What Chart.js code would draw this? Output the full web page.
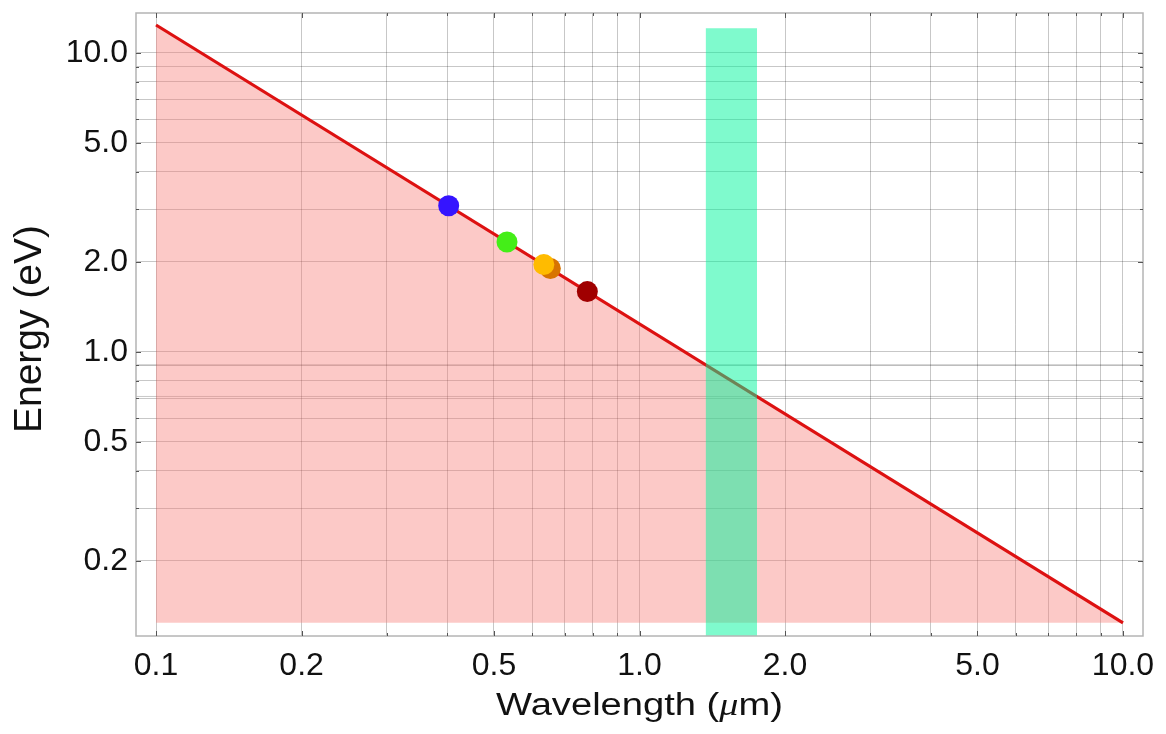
<!DOCTYPE html>
<html>
<head>
<meta charset="utf-8">
<script src="https://cdn.jsdelivr.net/npm/chart.js@4.4.1/dist/chart.umd.min.js"></script>
<style>
  html, body { margin: 0; padding: 0; background: #fff; }
  #wrap { width: 1166px; height: 734px; }
</style>
</head>
<body>
<div id="wrap"><canvas id="chart" width="1166" height="734"></canvas></div>
<script>
// photon energy line E = hc / lambda, end points
const lineWavelength = [0.1, 10];
const lineEnergy = [12.4, 0.124];
const fillFloor = 0.124;

// laser / LED markers
const markerWavelength = [0.403, 0.532, 0.654, 0.634, 0.78];
const markerEnergy = [3.08, 2.33, 1.90, 1.96, 1.59];
const markerColors = ['#3514ff', '#44ee18', '#d87400', '#ffbb00', '#a00000'];

// telecom band (green strip)
const bandWavelength = [1.37, 1.75];
const bandTop = [12.1, 12.1];
const bandEdgeEnergy = [0.905, 0.709];

// axes
const xRange = [0.0909, 11];
const yRange = [0.112, 13.6];
const xGridValues = [0.1, 0.2, 0.3, 0.4, 0.5, 0.6, 0.7, 0.8, 0.9, 1, 2, 3, 4, 5, 6, 7, 8, 9, 10];
const yGridValues = [0.2, 0.3, 0.4, 0.5, 0.6, 0.7, 0.8, 0.9, 1, 2, 3, 4, 5, 6, 7, 8, 9, 10];
const xTickLabels = { '0.1': '0.1', '0.2': '0.2', '0.5': '0.5', '1': '1.0', '2': '2.0', '5': '5.0', '10': '10.0' };
const yTickLabels = { '0.2': '0.2', '0.5': '0.5', '1': '1.0', '2': '2.0', '5': '5.0', '10': '10.0' };

const FONT = '"Liberation Sans", Arial, Helvetica, sans-serif';
const gridColor = 'rgba(0,0,0,0.22)';

const toPoints = (xs, ys) => xs.map((x, i) => ({ x, y: ys[i] }));

// frame round the plot, small inward ticks and the axis titles
const framePlugin = {
    id: 'frameAndTitles',
    afterDraw(chart) {
        const { ctx, chartArea: a, scales } = chart;
        ctx.save();
        ctx.strokeStyle = '#b4b4b4';
        ctx.lineWidth = 1.5;
        ctx.strokeRect(a.left, a.top, a.right - a.left, a.bottom - a.top);

        // inward ticks on all four sides
        ctx.strokeStyle = '#555';
        ctx.lineWidth = 1;
        ctx.beginPath();
        xGridValues.forEach(v => {
            const px = Math.round(scales.x.getPixelForValue(v)) + 0.5;
            const len = xTickLabels[String(v)] ? 5 : 3;
            ctx.moveTo(px, a.bottom); ctx.lineTo(px, a.bottom - len);
            ctx.moveTo(px, a.top); ctx.lineTo(px, a.top + len);
        });
        yGridValues.forEach(v => {
            const py = Math.round(scales.y.getPixelForValue(v)) + 0.5;
            const len = yTickLabels[String(v)] ? 5 : 3;
            ctx.moveTo(a.left, py); ctx.lineTo(a.left + len, py);
            ctx.moveTo(a.right, py); ctx.lineTo(a.right - len, py);
        });
        ctx.stroke();

        ctx.fillStyle = '#111';
        ctx.textBaseline = 'alphabetic';

        // x title, with italic mu
        const parts = [
            { t: 'Wavelength (', f: '31px ' + FONT },
            { t: 'μ', f: 'italic 31px "Liberation Serif", "Times New Roman", serif' },
            { t: 'm)', f: '31px ' + FONT },
        ];
        let total = 0;
        parts.forEach(p => { ctx.font = p.f; p.w = ctx.measureText(p.t).width; total += p.w; });
        ctx.save();
        ctx.translate((a.left + a.right) / 2, 715);
        ctx.scale(1.23, 1);
        let x = -total / 2;
        ctx.textAlign = 'left';
        parts.forEach(p => { ctx.font = p.f; ctx.fillText(p.t, x, 0); x += p.w; });
        ctx.restore();

        // y title
        ctx.save();
        ctx.translate(41, 329);
        ctx.rotate(-Math.PI / 2);
        ctx.textAlign = 'center';
        ctx.font = '39px ' + FONT;
        ctx.fillText('Energy (eV)', 0, 0);
        ctx.restore();

        ctx.restore();
    }
};

new Chart(document.getElementById('chart'), {
    type: 'scatter',
    data: {
        datasets: [
            {
                label: 'markers',
                data: toPoints(markerWavelength, markerEnergy),
                pointRadius: 10.5,
                pointHoverRadius: 10.5,
                pointBackgroundColor: markerColors,
                pointBorderWidth: 0,
                showLine: false,
                order: 0,
            },
            {
                label: 'band',
                type: 'line',
                data: toPoints(bandWavelength, bandTop),
                borderWidth: 0,
                borderColor: 'rgba(0,0,0,0)',
                pointRadius: 0,
                fill: 'start',
                backgroundColor: 'rgba(0,245,155,0.5)',
                order: 1,
            },
            {
                label: 'photon energy',
                type: 'line',
                data: toPoints(lineWavelength, lineEnergy),
                borderColor: '#dd1111',
                borderWidth: 3.2,
                pointRadius: 0,
                fill: { value: fillFloor },
                backgroundColor: 'rgba(248,120,115,0.4)',
                order: 2,
            },
            {
                label: 'edge 1',
                type: 'line',
                data: toPoints(xRange, [bandEdgeEnergy[0], bandEdgeEnergy[0]]),
                borderColor: 'rgba(0,0,0,0.22)',
                borderWidth: 1,
                pointRadius: 0,
                fill: false,
                order: 3,
            },
            {
                label: 'edge 2',
                type: 'line',
                data: toPoints(xRange, [bandEdgeEnergy[1], bandEdgeEnergy[1]]),
                borderColor: 'rgba(0,0,0,0.22)',
                borderWidth: 1,
                pointRadius: 0,
                fill: false,
                order: 3,
            },
        ],
    },
    options: {
        responsive: false,
        animation: false,
        events: [],
        layout: { padding: { left: 0, right: 23, top: 13, bottom: 0 } },
        plugins: {
            legend: { display: false },
            tooltip: { enabled: false },
            filler: { drawTime: 'beforeDatasetDraw' },
        },
        scales: {
            x: {
                type: 'logarithmic',
                min: xRange[0],
                max: xRange[1],
                afterBuildTicks: scale => { scale.ticks = xGridValues.map(v => ({ value: v })); },
                afterFit: scale => {
                    scale.height = 98;
                    scale.paddingLeft = 0;
                    scale.paddingRight = 0;
                },
                ticks: {
                    autoSkip: false,
                    maxRotation: 0,
                    padding: 11,
                    color: '#111',
                    font: { family: FONT, size: 32 },
                    callback: value => xTickLabels[String(value)] || '',
                },
                grid: { color: gridColor, lineWidth: 1, drawTicks: false },
                border: { display: false },
            },
            y: {
                type: 'logarithmic',
                min: yRange[0],
                max: yRange[1],
                afterBuildTicks: scale => { scale.ticks = yGridValues.map(v => ({ value: v })); },
                afterFit: scale => {
                    scale.width = 136;
                    scale.paddingTop = 0;
                    scale.paddingBottom = 0;
                },
                ticks: {
                    autoSkip: false,
                    padding: 8,
                    color: '#111',
                    font: { family: FONT, size: 32 },
                    callback: value => yTickLabels[String(value)] || '',
                },
                grid: { color: gridColor, lineWidth: 1, drawTicks: false },
                border: { display: false },
            },
        },
    },
    plugins: [framePlugin],
});
</script>
</body>
</html>
